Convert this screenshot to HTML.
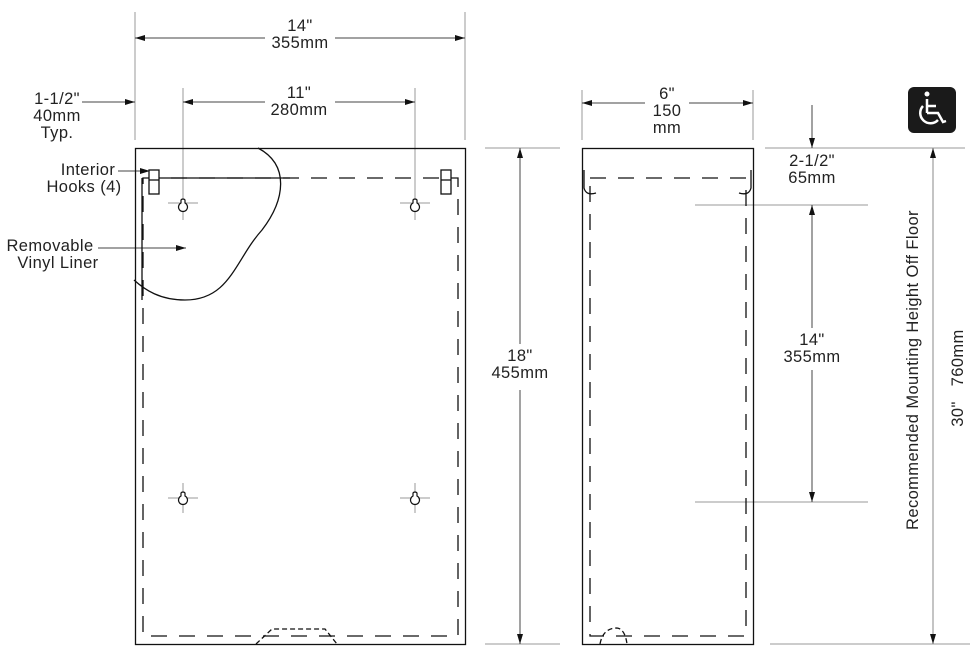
<!DOCTYPE html>
<html><head><style>
html,body{margin:0;padding:0;background:#fff;}
svg{display:block;font-family:"Liberation Sans",sans-serif;}
</style></head><body>
<svg width="978" height="666" viewBox="0 0 978 666" xmlns="http://www.w3.org/2000/svg">
<defs>
<marker id="a" viewBox="0 0 10 6" refX="10" refY="3" markerWidth="10" markerHeight="6" orient="auto-start-reverse" markerUnits="userSpaceOnUse"><path d="M0,0 L10,3 L0,6 z" fill="#111"/></marker>
</defs>
<g fill="#222" font-size="16.5" text-anchor="middle" letter-spacing="0.4">
<text x="300" y="31">14"</text><text x="300" y="48">355mm</text>
<text x="299" y="98">11"</text><text x="299" y="115">280mm</text>
<text x="57" y="104">1-1/2"</text><text x="57" y="121">40mm</text><text x="57" y="138">Typ.</text>
<text x="88" y="175">Interior</text><text x="84" y="192">Hooks (4)</text>
<text x="50" y="251">Removable</text><text x="58" y="268">Vinyl Liner</text>
<text x="667" y="99">6"</text><text x="667" y="116">150</text><text x="667" y="133">mm</text>
<text x="520" y="361">18"</text><text x="520" y="378">455mm</text>
<text x="812" y="166">2-1/2"</text><text x="812" y="183">65mm</text>
<text x="812" y="345">14"</text><text x="812" y="362">355mm</text>
<text transform="translate(918,370) rotate(-90)">Recommended Mounting Height Off Floor</text>
<text transform="translate(963,378) rotate(-90)" xml:space="preserve">30"   760mm</text>
</g>
<g stroke="#999" stroke-width="1" fill="none">
<line x1="135" y1="12" x2="135" y2="140"/><line x1="465" y1="12" x2="465" y2="140"/>
<line x1="183" y1="88" x2="183" y2="220"/><line x1="415" y1="88" x2="415" y2="220"/>
<line x1="582" y1="90" x2="582" y2="140"/><line x1="753" y1="90" x2="753" y2="140"/>
<line x1="485" y1="148" x2="560" y2="148"/><line x1="485" y1="644" x2="560" y2="644"/>
<line x1="765" y1="148" x2="965" y2="148"/><line x1="695" y1="205" x2="868" y2="205"/>
<line x1="695" y1="502" x2="868" y2="502"/><line x1="770" y1="644" x2="970" y2="644"/>
<line x1="168" y1="203" x2="198" y2="203"/><line x1="400" y1="203" x2="430" y2="203"/>
<line x1="168" y1="498" x2="198" y2="498"/><line x1="400" y1="498" x2="430" y2="498"/>
<line x1="183" y1="483" x2="183" y2="513"/><line x1="415" y1="483" x2="415" y2="513"/>
</g>
<g stroke="#444" stroke-width="1" fill="none">
<line x1="135" y1="38" x2="265" y2="38" marker-start="url(#a)"/><line x1="335" y1="38" x2="465" y2="38" marker-end="url(#a)"/>
<line x1="183" y1="102" x2="265" y2="102" marker-start="url(#a)"/><line x1="335" y1="102" x2="415" y2="102" marker-end="url(#a)"/>
<line x1="82" y1="102" x2="135" y2="102" marker-end="url(#a)"/>
<line x1="582" y1="103" x2="645" y2="103" marker-start="url(#a)"/><line x1="689" y1="103" x2="753" y2="103" marker-end="url(#a)"/>
<line x1="520" y1="148" x2="520" y2="344" marker-start="url(#a)"/><line x1="520" y1="390" x2="520" y2="644" marker-end="url(#a)"/>
<line x1="812" y1="105" x2="812" y2="148" marker-end="url(#a)"/>
<line x1="812" y1="205" x2="812" y2="328" marker-start="url(#a)"/><line x1="812" y1="370" x2="812" y2="502" marker-end="url(#a)"/>
<line x1="933" y1="148" x2="933" y2="644" marker-start="url(#a)" marker-end="url(#a)" stroke="#888"/>
<line x1="118" y1="171" x2="150" y2="171" marker-end="url(#a)"/>
<line x1="98" y1="248" x2="186" y2="248" marker-end="url(#a)"/>
</g>
<g stroke="#111" stroke-width="1.3" fill="none">
<rect x="135.5" y="148.5" width="330" height="496"/>
<rect x="582.5" y="148.5" width="171" height="496"/>
<path d="M143,178 H458 V636 H143 Z" stroke-dasharray="16,12"/>
<path d="M590,178 H746 V636 H590 Z" stroke-dasharray="16,12"/>
<line x1="150" y1="178" x2="290" y2="178"/>
<line x1="142" y1="178" x2="142" y2="300"/>
<path d="M258,148 C290,165 285,200 262,230 C235,260 230,300 185,300 C160,300 145,290 134,280"/>
<rect x="149" y="170" width="10" height="24" fill="#fff"/><line x1="149" y1="180" x2="159" y2="180"/>
<rect x="441" y="170" width="10" height="24" fill="#fff"/><line x1="441" y1="180" x2="451" y2="180"/>
<path d="M584,170 V188 Q586,196 596,193"/><path d="M751,170 V188 Q749,196 739,193"/>
<path d="M256,644 L272,629 H325 L337,644" stroke-dasharray="5,3"/>
<path d="M600,644 Q603,628 617,628 Q625,629 627,644" stroke-dasharray="5,3"/>
</g>
<g stroke="#111" stroke-width="1.2" fill="#fff">
<path d="M181,200 A2.5,2.5 0 0 1 185,200 L185,203 A4.5,4.5 0 1 1 181,203 Z"/>
<path d="M413,200 A2.5,2.5 0 0 1 417,200 L417,203 A4.5,4.5 0 1 1 413,203 Z"/>
<path d="M181,493 A2.5,2.5 0 0 1 185,493 L185,496 A4.5,4.5 0 1 1 181,496 Z"/>
<path d="M413,493 A2.5,2.5 0 0 1 417,493 L417,496 A4.5,4.5 0 1 1 413,496 Z"/>
</g>
<rect x="908" y="87" width="48" height="46" rx="6" fill="#1a1a1a"/>
<g stroke="#fff" stroke-width="2.5" fill="none">
<circle cx="927" cy="94" r="2.5" fill="#fff" stroke="none"/>
<line x1="927" y1="99" x2="927" y2="113"/><line x1="927" y1="106" x2="936" y2="106"/>
<path d="M927,113 H938 L943,122 L946,121"/>
<path d="M923,106 A10,10 0 1 0 938,120"/>
</g>
</svg>
</body></html>
